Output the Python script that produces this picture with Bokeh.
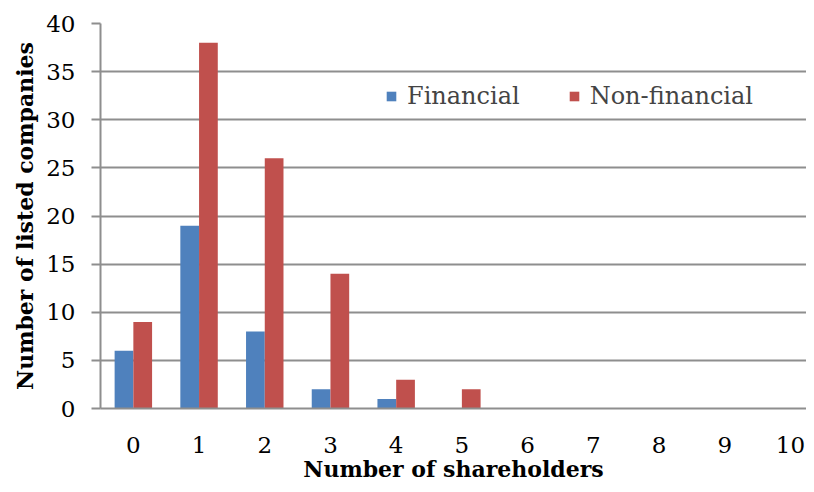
from bokeh.plotting import figure
from bokeh.models import ColumnDataSource, Range1d, FixedTicker, Legend, LegendItem
from bokeh.transform import dodge
from bokeh.embed import file_html
from bokeh.resources import INLINE

shareholders = [0, 1, 2, 3, 4, 5, 6, 7, 8, 9, 10]
financial = [6, 19, 8, 2, 1, 0, 0, 0, 0, 0, 0]
non_financial = [9, 38, 26, 14, 3, 2, 0, 0, 0, 0, 0]
y_ticks = [0, 5, 10, 15, 20, 25, 30, 35, 40]

src = ColumnDataSource(dict(x=shareholders, fin=financial, nonfin=non_financial))

FONT = "DejaVu Serif"
GRID = "#8e8e8e"

p = figure(width=806, height=484, output_backend="svg", toolbar_location=None,
           x_range=Range1d(-0.5, 10.245), y_range=Range1d(0, 40),
           min_border_left=100, min_border_top=23, min_border_bottom=76, min_border_right=0)
p.outline_line_color = None
p.background_fill_color = "white"
p.border_fill_color = "white"

bw = 0.285
r1 = p.vbar(x=dodge("x", -bw / 2, range=p.x_range), top="fin", width=bw, source=src,
            fill_color="#4F81BD", line_color=None)
r2 = p.vbar(x=dodge("x", bw / 2, range=p.x_range), top="nonfin", width=bw, source=src,
            fill_color="#C0504D", line_color=None)

p.xgrid.grid_line_color = None
p.ygrid.grid_line_color = GRID
p.ygrid.grid_line_width = 2
p.ygrid.ticker = FixedTicker(ticks=y_ticks)

p.yaxis.ticker = FixedTicker(ticks=y_ticks)
p.yaxis.axis_line_color = GRID
p.yaxis.axis_line_width = 2
p.yaxis.major_tick_line_color = GRID
p.yaxis.major_tick_line_width = 2
p.yaxis.major_tick_out = 9
p.yaxis.major_tick_in = 0
p.yaxis.minor_tick_line_color = None
p.yaxis.major_label_standoff = 16
p.yaxis.axis_label = "Number of listed companies"
p.yaxis.axis_label_standoff = 5

p.xaxis.ticker = FixedTicker(ticks=shareholders)
p.xaxis.axis_line_color = GRID
p.xaxis.axis_line_width = 2
p.xaxis.major_tick_line_color = None
p.xaxis.minor_tick_line_color = None
p.xaxis.major_label_standoff = 22
p.xaxis.axis_label = "Number of shareholders"
p.xaxis.axis_label_standoff = 0

for ax in (p.xaxis[0], p.yaxis[0]):
    ax.major_label_text_font = FONT
    ax.major_label_text_font_size = "23px"
    ax.major_label_text_color = "black"
    ax.axis_label_text_font = FONT
    ax.axis_label_text_font_size = "22px"
    ax.axis_label_text_font_style = "bold"
    ax.axis_label_text_color = "black"

legend = Legend(items=[LegendItem(label="Financial", renderers=[r1]),
                       LegendItem(label="Non-financial", renderers=[r2])],
                orientation="horizontal", location=(285, 298),
                border_line_color=None, background_fill_alpha=0,
                glyph_width=12, glyph_height=12, spacing=48,
                label_text_font=FONT, label_text_font_size="24px",
                label_standoff=10, padding=0, margin=0)
p.add_layout(legend)

open("out.html", "w").write(file_html(p, INLINE))
